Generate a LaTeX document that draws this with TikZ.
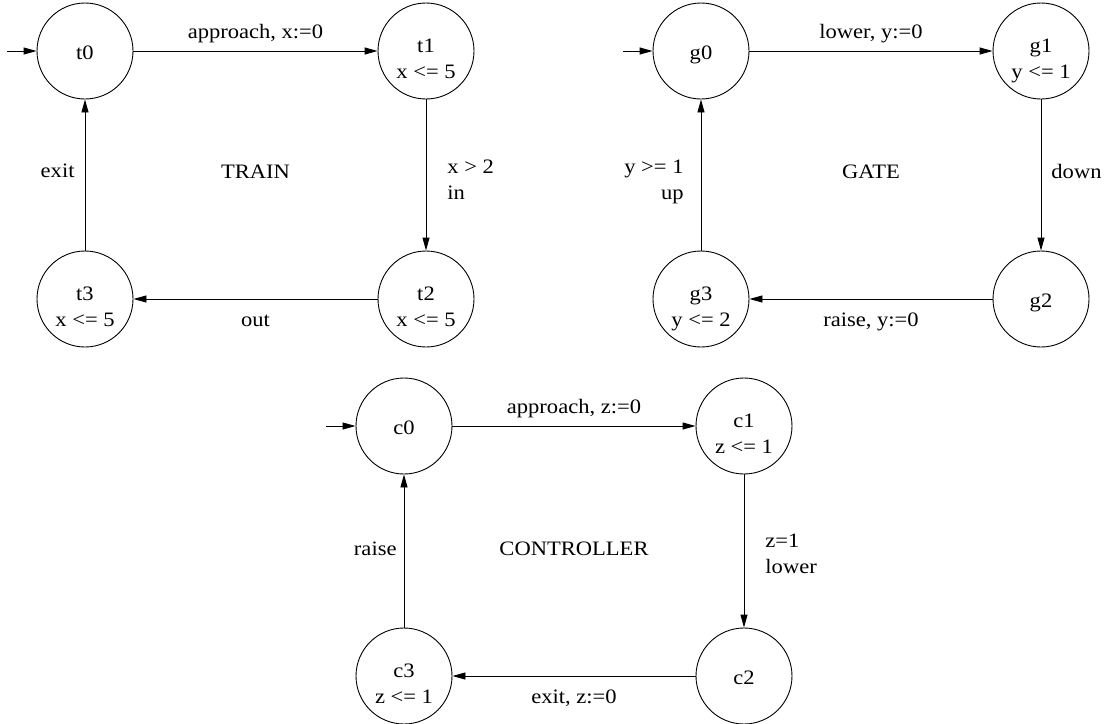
\documentclass[tikz,border=0pt]{standalone}
\usepackage{fontspec}
\setmainfont{Liberation Serif}[FakeStretch=1.1]
\usetikzlibrary{arrows.meta}

% state texts: one line, or name over invariant
\newcommand{\onel}[1]{\raisebox{-8pt}[0pt][0pt]{#1}}
\newcommand{\twol}[2]{\raisebox{-14pt}[0pt][0pt]{\begin{tabular}{@{}c@{}}#1\\#2\end{tabular}}}
% edge labels on two lines, baseline on the first line
\newcommand{\ltwo}[2]{\begin{tabular}[t]{@{}l@{}}#1\\#2\end{tabular}}
\newcommand{\rtwo}[2]{\begin{tabular}[t]{@{}r@{}}#1\\#2\end{tabular}}

\begin{document}
\begin{tikzpicture}[x=1pt,y=-1pt,
  every node/.style={font=\fontsize{20.5}{26}\selectfont},
  st/.style={draw, circle, minimum size=96pt, inner sep=0pt, line width=0.9pt},
  tr/.style={draw, line width=0.9pt, -{Triangle[length=13pt,width=7pt]}},
  lbl/.style={inner sep=0pt},
]
\useasboundingbox (0,0) rectangle (1108,723);

% ---------------- TRAIN ----------------
\node[st] (t0) at (85,51)   {\onel{t0}};
\node[st] (t1) at (426,51)  {\twol{t1}{x <= 5}};
\node[st] (t2) at (426,299) {\twol{t2}{x <= 5}};
\node[st] (t3) at (85,299)  {\twol{t3}{x <= 5}};
\coordinate (t0i) at (7,51);
\draw[tr] (t0i) -- (t0);
\draw[tr] (t0) -- node[lbl, anchor=base, yshift=13pt] (lt01) {approach, x:=0} (t1);
\draw[tr] (t1) -- node[lbl, anchor=base west, xshift=21pt, yshift=2pt] (lt12) {\ltwo{x > 2}{in}} (t2);
\draw[tr] (t2) -- node[lbl, anchor=base, yshift=-27pt] (lt23) {out} (t3);
\draw[tr] (t3) -- node[lbl, anchor=base east, xshift=-10pt, yshift=-2pt] (lt30) {exit} (t0);
\node[lbl, anchor=base] (ttl) at (255.5,178) {TRAIN};

% ---------------- GATE ----------------
\node[st] (g0) at (701,51)   {\onel{g0}};
\node[st] (g1) at (1041,51)  {\twol{g1}{y <= 1}};
\node[st] (g2) at (1041,299) {\onel{g2}};
\node[st] (g3) at (701,299)  {\twol{g3}{y <= 2}};
\coordinate (g0i) at (623,51);
\draw[tr] (g0i) -- (g0);
\draw[tr] (g0) -- node[lbl, anchor=base, yshift=13pt] (lg01) {lower, y:=0} (g1);
\draw[tr] (g1) -- node[lbl, anchor=base west, xshift=10pt, yshift=-3pt] (lg12) {down} (g2);
\draw[tr] (g2) -- node[lbl, anchor=base, yshift=-27pt] (lg23) {raise, y:=0} (g3);
\draw[tr] (g3) -- node[lbl, anchor=base east, xshift=-17pt, yshift=2pt] (lg30) {\rtwo{y >= 1}{up}} (g0);
\node[lbl, anchor=base] (gtl) at (871,178) {GATE};

% ---------------- CONTROLLER ----------------
\node[st] (c0) at (404,426) {\onel{c0}};
\node[st] (c1) at (744,426) {\twol{c1}{z <= 1}};
\node[st] (c2) at (744,676) {\onel{c2}};
\node[st] (c3) at (404,676) {\twol{c3}{z <= 1}};
\coordinate (c0i) at (326,426);
\draw[tr] (c0i) -- (c0);
\draw[tr] (c0) -- node[lbl, anchor=base, yshift=13pt] (lc01) {approach, z:=0} (c1);
\draw[tr] (c1) -- node[lbl, anchor=base west, xshift=21pt, yshift=4pt] (lc12) {\ltwo{z=1}{lower}} (c2);
\draw[tr] (c2) -- node[lbl, anchor=base, yshift=-27pt] (lc23) {exit, z:=0} (c3);
\draw[tr] (c3) -- node[lbl, anchor=base east, xshift=-7pt, yshift=-4pt] (lc30) {raise} (c0);
\node[lbl, anchor=base] (ctl) at (574,555) {CONTROLLER};
\end{tikzpicture}
\end{document}
